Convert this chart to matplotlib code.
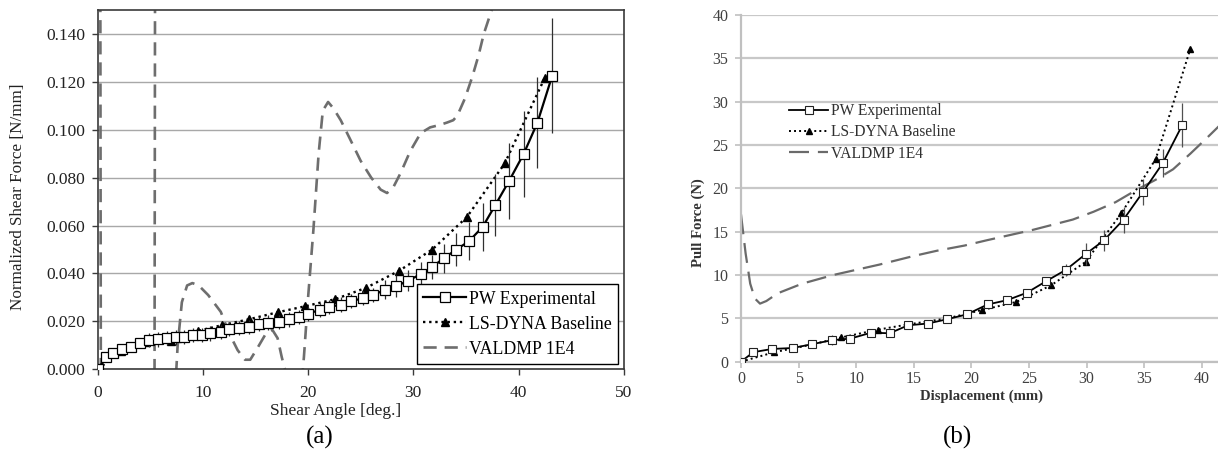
import matplotlib
matplotlib.use("Agg")
import matplotlib.pyplot as plt
import numpy as np

plt.rcParams['font.family'] = ['Liberation Serif', 'DejaVu Serif']

# ---------------- panel (a): shear frame ----------------
a_exp_x = [0, 0.8, 1.5, 2.3, 3.2, 4.0, 4.9, 5.7, 6.6, 7.4, 8.2, 9.1, 9.9, 10.7,
           11.7, 12.5, 13.4, 14.4, 15.3, 16.2, 17.2, 18.2, 19.1, 20.0, 21.1,
           22.0, 23.1, 24.1, 25.2, 26.2, 27.3, 28.4, 29.5, 30.7, 31.8, 32.9,
           34.1, 35.3, 36.6, 37.8, 39.1, 40.5, 41.8, 43.2]
a_exp_y = [0, 0.005, 0.0068, 0.0084, 0.0092, 0.0108, 0.0122, 0.0125, 0.013,
           0.0133, 0.0135, 0.0142, 0.0143, 0.015, 0.0156, 0.0168, 0.0173,
           0.0177, 0.0188, 0.0195, 0.0198, 0.0208, 0.0218, 0.0232, 0.0248,
           0.026, 0.027, 0.0284, 0.0297, 0.031, 0.0332, 0.0347, 0.037, 0.0397,
           0.0427, 0.0464, 0.050, 0.0535, 0.0595, 0.0686, 0.0786, 0.090, 0.103,
           0.1225]
a_exp_err = [0, 0.001, 0.002, 0.002, 0.002, 0.002, 0.003, 0.003, 0.003, 0.003,
             0.003, 0.003, 0.003, 0.003, 0.003, 0.003, 0.003, 0.003, 0.003,
             0.003, 0.003, 0.003, 0.003, 0.003, 0.003, 0.003, 0.003, 0.003,
             0.003, 0.003, 0.004, 0.0045, 0.0045, 0.005, 0.005, 0.006, 0.007,
             0.008, 0.010, 0.013, 0.016, 0.018, 0.019, 0.024]

a_dyna_x = [0, 2.2, 4.6, 7.0, 9.5, 11.8, 14.4, 17.1, 19.7, 22.6, 25.5, 28.6,
            31.8, 35.1, 38.7, 42.5]
a_dyna_y = [0, 0.0075, 0.0113, 0.012, 0.016, 0.0184, 0.0209, 0.0238, 0.0263,
            0.0293, 0.034, 0.041, 0.050, 0.0636, 0.086, 0.1217]

a_val_x = [0.25, 0.3, np.nan, 5.4, 5.45, np.nan,
           7.45, 7.6, 8.0, 8.5, 9.0, 9.6, 10.5, 11.7, 12.5, 13.3, 14.0, 14.5,
           15.2, 16.0, 16.6, 17.1, 17.5, 17.8, 18.0, np.nan,
           19.4, 19.6, 20.0, 20.5, 21.0, 21.4, 21.9, 22.4, 23.1, 24.0, 25.0,
           26.0, 26.9, 27.5, 28.1, 28.8, 29.7, 30.7, 31.6, 32.5, 33.2, 33.8,
           34.2, 34.9, 35.6, 36.2, 36.7, 37.6, 38.0]
a_val_y = [0.16, -0.01, np.nan, -0.01, 0.16, np.nan,
           -0.002, 0.01, 0.028, 0.035, 0.036, 0.035, 0.031, 0.024, 0.015,
           0.008, 0.004, 0.004, 0.009, 0.015, 0.0165, 0.013, 0.005, 0.0,
           -0.005, np.nan,
           -0.005, 0.005, 0.03, 0.058, 0.09, 0.108, 0.1116, 0.109, 0.104,
           0.096, 0.087, 0.080, 0.075, 0.0736, 0.076, 0.082, 0.091, 0.0986,
           0.101, 0.102, 0.103, 0.104, 0.106, 0.113, 0.122, 0.131, 0.140,
           0.152, 0.16]

a_yticks = [0.0, 0.02, 0.04, 0.06, 0.08, 0.10, 0.12, 0.14]
a_xticks = [0, 10, 20, 30, 40, 50]

# ---------------- panel (b): pull test ----------------
b_exp_x = [0, 1.07, 2.7, 4.5, 6.2, 7.9, 9.5, 11.3, 12.9, 14.5, 16.2, 17.9,
           19.6, 21.4, 23.1, 24.8, 26.5, 28.2, 29.9, 31.5, 33.2, 34.9, 36.6,
           38.3]
b_exp_y = [0, 1.1, 1.47, 1.58, 2.03, 2.48, 2.67, 3.35, 3.28, 4.2, 4.4, 4.9,
           5.46, 6.6, 7.1, 7.95, 9.3, 10.6, 12.4, 14.0, 16.4, 19.6, 22.9, 27.3]
b_exp_err = [0, 0.2, 0.2, 0.5, 0.4, 0.6, 0.3, 0.4, 0.3, 0.3, 0.3, 0.4, 0.4,
             0.4, 0.4, 0.4, 0.5, 0.7, 1.3, 1.2, 1.5, 1.5, 1.6, 2.5]

b_dyna_x = [0, 2.9, 6.2, 8.7, 11.9, 14.5, 17.9, 20.9, 23.9, 26.9, 29.9, 33.0,
            36.0, 39.0]
b_dyna_y = [0, 1.1, 2.0, 2.8, 3.7, 4.3, 5.0, 5.95, 6.9, 8.8, 11.5, 17.1,
            23.4, 36.1]

b_val_x = [0, 0.4, 0.8, 1.2, 1.65, 2.2, 3.2, 5.3, 8.0, 10.0, 12.0, 15.0, 17.0,
           19.4, 21.3, 25.3, 28.8, 30.6, 32.5, 34.3, 36.0, 37.5, 39.0, 40.5,
           41.5]
b_val_y = [17.0, 12.5, 9.0, 7.3, 6.7, 7.0, 7.9, 9.0, 10.0, 10.6, 11.2, 12.2,
           12.8, 13.4, 14.0, 15.2, 16.4, 17.3, 18.4, 19.8, 21.0, 22.2, 24.0,
           25.9, 27.2]

b_yticks = [0, 5, 10, 15, 20, 25, 30, 35, 40]
b_xticks = [0, 5, 10, 15, 20, 25, 30, 35, 40]

labels = ["PW Experimental", "LS-DYNA Baseline", "VALDMP 1E4"]

fig = plt.figure(figsize=(12.18, 4.53), dpi=100)

# ---- (a)
ax1 = fig.add_axes([97.7 / 1218, (453 - 369.3) / 453, 526 / 1218, 359.3 / 453])
ax1.set_xlim(0, 50)
ax1.set_ylim(0, 0.15)
ax1.yaxis.grid(True, color='#a8a8a8', lw=1.0)
ax1.set_axisbelow(True)
for s in ax1.spines.values():
    s.set_color('#3a3a3a')
    s.set_linewidth(1.2)

ax1.plot(a_val_x, a_val_y, color='#6e6e6e', lw=1.9, ls=(0, (5, 3)),
         label=labels[2], zorder=2)
ax1.plot(a_dyna_x, a_dyna_y, color='black', lw=1.7, ls=(0, (1, 1.6)),
         marker='^', ms=6, mfc='black', mec='black', label=labels[1], zorder=3)
ax1.errorbar(a_exp_x, a_exp_y, yerr=a_exp_err, fmt='none', ecolor='#303030',
             elinewidth=0.9, zorder=3)
ax1.plot(a_exp_x, a_exp_y, color='black', lw=1.6, marker='s', ms=7.5,
         mfc='white', mec='black', mew=0.9, label=labels[0], zorder=4)

ax1.set_yticks(a_yticks)
ax1.set_yticklabels(['%.3f' % v for v in a_yticks])
ax1.set_xticks(a_xticks)
ax1.tick_params(axis='both', labelsize=12.5, direction='out', length=4,
                color='#3a3a3a', labelcolor='#222222', width=1)
ax1.tick_params(axis='y', pad=5)
ax1.tick_params(axis='x', pad=7)

h, l = ax1.get_legend_handles_labels()
order = [l.index(t) for t in labels]
leg1 = ax1.legend([h[i] for i in order], labels, loc='lower right',
                  bbox_to_anchor=(0.99, 0.015), fontsize=12.8, frameon=True,
                  fancybox=False, edgecolor='black', framealpha=1,
                  handlelength=2.4, numpoints=1, borderaxespad=0,
                  labelspacing=0.45, handletextpad=0.2, borderpad=0.35)
leg1.get_frame().set_linewidth(1.0)

fig.text(18 / 1218, 1 - 197 / 453, "Normalized Shear Force [N/mm]", rotation=90,
         ha='center', va='center', fontsize=12.3, color='#222222')
fig.text(336 / 1218, 1 - 411 / 453, "Shear Angle [deg.]", ha='center',
         va='center', fontsize=12.5, color='#222222')
fig.text(320 / 1218, 1 - 437 / 453, "(a)", ha='center', va='center', fontsize=18)

# ---- (b)
ax2 = fig.add_axes([741 / 1218, (453 - 361.7) / 453, 477 / 1218, 346.7 / 453])
ax2.set_xlim(0, 41.4)
ax2.set_ylim(0, 40)
ax2.yaxis.grid(True, color='#c8c8c8', lw=1.6)
ax2.set_axisbelow(True)
for k in ['top', 'right']:
    ax2.spines[k].set_visible(False)
for k in ['left', 'bottom']:
    ax2.spines[k].set_color('#c0c0c0')
    ax2.spines[k].set_linewidth(1.6)

ax2.plot(b_val_x, b_val_y, color='#6a6a6a', lw=1.6, ls=(0, (9, 4)),
         label=labels[2], zorder=2)
ax2.plot(b_dyna_x, b_dyna_y, color='black', lw=1.4, ls=(0, (1, 1.6)),
         marker='^', ms=5, mfc='black', mec='black', label=labels[1], zorder=3)
ax2.errorbar(b_exp_x, b_exp_y, yerr=b_exp_err, fmt='none', ecolor='#505050',
             elinewidth=0.9, zorder=3)
ax2.plot(b_exp_x, b_exp_y, color='black', lw=1.3, marker='s', ms=6.3,
         mfc='white', mec='#222222', mew=0.8, label=labels[0], zorder=4)

ax2.set_yticks(b_yticks)
ax2.set_xticks(b_xticks)
ax2.tick_params(axis='both', labelsize=11.5, direction='out', length=4,
                color='#c0c0c0', labelcolor='#404040', width=1.2)
ax2.tick_params(axis='y', pad=5)
ax2.tick_params(axis='x', pad=2.5)

h, l = ax2.get_legend_handles_labels()
order = [l.index(t) for t in labels]
ax2.legend([h[i] for i in order], labels, loc='upper left',
           bbox_to_anchor=(0.095, 0.755), fontsize=11.2, frameon=False,
           handlelength=2.5, numpoints=1, borderaxespad=0, labelspacing=0.35,
           handletextpad=0.15, borderpad=0.2, labelcolor='#303030')

fig.text(698 / 1218, 1 - 223 / 453, "Pull Force (N)", rotation=90, ha='center',
         va='center', fontsize=10.6, fontweight='bold', color='#333333')
fig.text(982 / 1218, 1 - 396 / 453, "Displacement (mm)", ha='center',
         va='center', fontsize=10.6, fontweight='bold', color='#333333')
fig.text(958 / 1218, 1 - 437 / 453, "(b)", ha='center', va='center', fontsize=18)

fig.savefig("out.png", dpi=100)
